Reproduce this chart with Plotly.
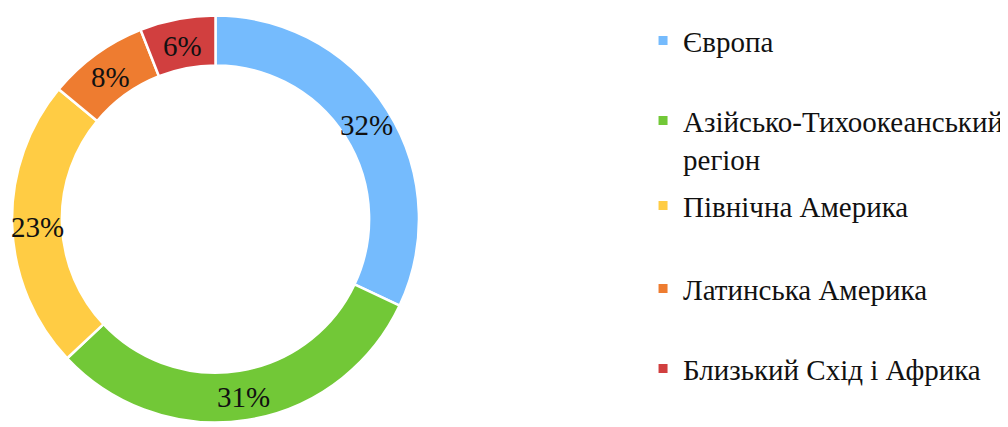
import math
import plotly.graph_objects as go

labels = ["Європа", "Азійсько-Тихоокеанський<br>регіон", "Північна Америка",
          "Латинська Америка", "Близький Схід і Африка"]
values = [32, 31, 23, 8, 6]
colors = ["#75BBFD", "#72C837", "#FFCC44", "#EE7C30", "#D13F3F"]

FONT = "Liberation Serif, Times New Roman, serif"
W, H = 1008, 427
HOLE = 0.755
DOM_X = [0.004, 0.4077]
DOM_Y = [0.0293, 0.9824]

fig = go.Figure()
fig.add_trace(go.Pie(
    labels=labels, values=values, sort=False, direction="clockwise", rotation=0,
    hole=HOLE,
    marker=dict(colors=colors, line=dict(color="white", width=2.5)),
    textinfo="none",
    domain=dict(x=DOM_X, y=DOM_Y),
    showlegend=False, hoverinfo="label+percent",
))

# percentage labels placed at the middle of the ring, on each slice's bisector
cx = (DOM_X[0] + DOM_X[1]) / 2 * W
cy = (DOM_Y[0] + DOM_Y[1]) / 2 * H
R = min((DOM_X[1] - DOM_X[0]) * W, (DOM_Y[1] - DOM_Y[0]) * H) / 2
rmid = R * (1 + HOLE) / 2
total = sum(values)
cum = 0
for v in values:
    ang = 2 * math.pi * (cum + v / 2) / total
    cum += v
    px = cx + rmid * math.sin(ang)
    py = cy + rmid * math.cos(ang)
    fig.add_annotation(
        x=px / W, y=py / H, xref="paper", yref="paper", showarrow=False,
        xanchor="center", yanchor="middle",
        text=f"{round(100 * v / total)}%", yshift=-2,
        font=dict(family=FONT, size=29, color="#111111"),
    )

# legend entries drawn as separate legends so each sits in its own slot
legend_y = [0.9234, 0.6916, 0.537, 0.3426, 0.1553]
for i, (lab, col) in enumerate(zip(labels, colors)):
    name = "legend" if i == 0 else f"legend{i+1}"
    fig.add_trace(go.Scatter(
        x=[None], y=[None], mode="markers", name=lab,
        marker=dict(symbol="square", size=9, color=col),
        legend=name, showlegend=True, hoverinfo="skip",
    ))
    fig.layout[name] = dict(
        x=0.630, y=legend_y[i], xanchor="left", yanchor="middle",
        valign="top", bgcolor="rgba(0,0,0,0)",
        font=dict(family=FONT, size=29, color="#111111"),
    )

fig.update_layout(
    width=W, height=H,
    margin=dict(l=0, r=0, t=0, b=0),
    paper_bgcolor="white", plot_bgcolor="white",
    xaxis=dict(visible=False, domain=[0.5, 1]), yaxis=dict(visible=False),
)

fig.write_html("out.html")
